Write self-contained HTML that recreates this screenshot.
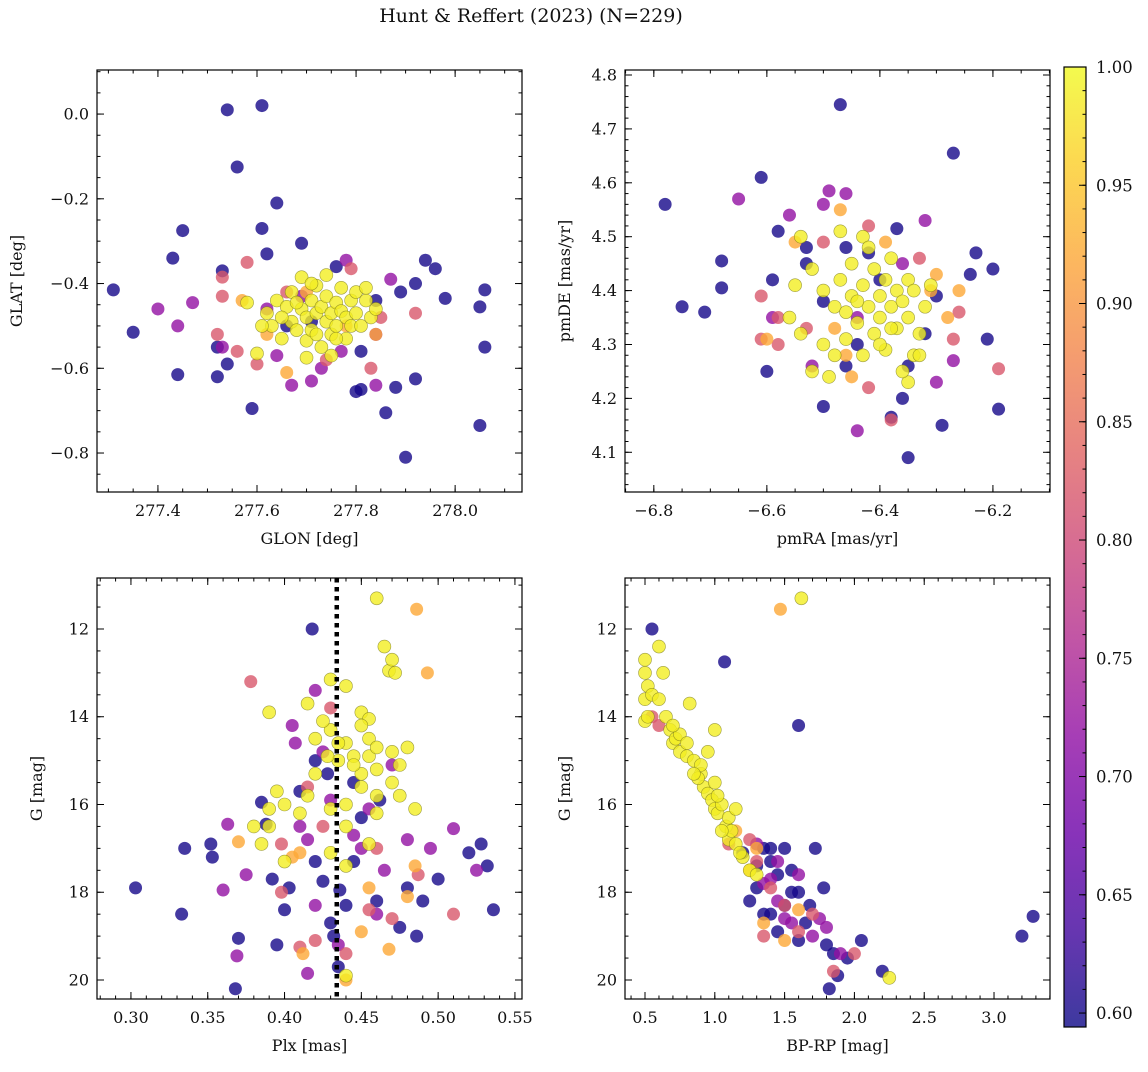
<!DOCTYPE html>
<html><head><meta charset="utf-8"><style>
html,body{margin:0;padding:0;background:#fff;}
svg text{font-family:"DejaVu Serif","Liberation Serif",serif;fill:#111;}
</style></head><body>
<svg id="fig" width="1148" height="1067" viewBox="0 0 1148 1067" xmlns="http://www.w3.org/2000/svg">
<defs>
<linearGradient id="plasma" x1="0" y1="1" x2="0" y2="0">
<stop offset="0" stop-color="#0d0887"/><stop offset="0.1" stop-color="#41049d"/><stop offset="0.2" stop-color="#6a00a8"/><stop offset="0.3" stop-color="#8f0da4"/><stop offset="0.4" stop-color="#b12a90"/><stop offset="0.5" stop-color="#cc4778"/><stop offset="0.6" stop-color="#e16462"/><stop offset="0.7" stop-color="#f2844b"/><stop offset="0.8" stop-color="#fca636"/><stop offset="0.9" stop-color="#fcce25"/><stop offset="1" stop-color="#f0f921"/>
</linearGradient>
</defs>
<text x="531" y="22" text-anchor="middle" font-size="19">Hunt &amp; Reffert (2023) (N=229)</text>
</svg>
<script>
// Panel 1: GLON vs GLAT [x, y, prob]
const p1 = [
[277.31,-0.415,0.6],[277.35,-0.515,0.6],[277.43,-0.34,0.6],[277.45,-0.275,0.6],[277.44,-0.615,0.6],[277.54,0.01,0.6],[277.61,0.02,0.6],[277.56,-0.125,0.6],[277.64,-0.21,0.6],[277.61,-0.27,0.6],[277.62,-0.33,0.6],[277.52,-0.62,0.6],[277.59,-0.695,0.6],[277.69,-0.305,0.6],[277.81,-0.65,0.6],[277.80,-0.655,0.6],[277.86,-0.705,0.6],[277.90,-0.81,0.6],[278.05,-0.735,0.6],[278.06,-0.55,0.6],[278.06,-0.415,0.6],[278.05,-0.455,0.6],[277.98,-0.435,0.6],[277.96,-0.365,0.6],[277.94,-0.345,0.6],[277.92,-0.4,0.6],[277.89,-0.42,0.6],[277.92,-0.625,0.6],[277.88,-0.645,0.6],[277.84,-0.44,0.6],[277.76,-0.36,0.6],[277.53,-0.37,0.6],[277.54,-0.59,0.6],[277.52,-0.55,0.6],[277.71,-0.49,0.6],[277.81,-0.56,0.6],[277.66,-0.5,0.6],
[277.40,-0.46,0.72],[277.44,-0.5,0.72],[277.47,-0.445,0.72],[277.67,-0.64,0.72],[277.71,-0.63,0.72],[277.84,-0.64,0.72],[277.87,-0.39,0.72],[277.73,-0.6,0.72],[277.78,-0.345,0.72],[277.69,-0.43,0.72],[277.64,-0.57,0.72],[277.77,-0.56,0.72],[277.62,-0.46,0.72],[277.84,-0.52,0.72],[277.53,-0.55,0.72],
[277.53,-0.43,0.82],[277.56,-0.56,0.82],[277.58,-0.35,0.82],[277.53,-0.385,0.82],[277.92,-0.47,0.82],[277.85,-0.48,0.82],[277.66,-0.42,0.82],[277.79,-0.365,0.82],[277.74,-0.58,0.82],[277.83,-0.6,0.82],[277.60,-0.59,0.82],[277.52,-0.52,0.82],
[277.57,-0.44,0.92],[277.66,-0.61,0.92],[277.84,-0.52,0.92],[277.70,-0.42,0.92],[277.78,-0.50,0.92],[277.62,-0.52,0.92],
[277.58,-0.445,0.99],[277.60,-0.565,0.99],[277.62,-0.47,0.99],[277.63,-0.5,0.99],[277.64,-0.44,0.99],[277.65,-0.53,0.99],[277.66,-0.455,0.99],[277.67,-0.49,0.99],[277.67,-0.42,0.99],[277.68,-0.51,0.99],[277.69,-0.46,0.99],[277.69,-0.385,0.99],[277.70,-0.535,0.99],[277.70,-0.48,0.99],[277.71,-0.44,0.99],[277.71,-0.51,0.99],[277.72,-0.47,0.99],[277.72,-0.405,0.99],[277.73,-0.55,0.99],[277.73,-0.455,0.99],[277.74,-0.49,0.99],[277.74,-0.38,0.99],[277.74,-0.43,0.99],[277.75,-0.47,0.99],[277.75,-0.52,0.99],[277.76,-0.445,0.99],[277.76,-0.5,0.99],[277.77,-0.465,0.99],[277.77,-0.41,0.99],[277.78,-0.48,0.99],[277.78,-0.53,0.99],[277.79,-0.44,0.99],[277.79,-0.5,0.99],[277.80,-0.42,0.99],[277.80,-0.47,0.99],[277.81,-0.5,0.99],[277.82,-0.44,0.99],[277.83,-0.48,0.99],[277.84,-0.46,0.99],[277.70,-0.575,0.99],[277.75,-0.57,0.99],[277.68,-0.445,0.99],[277.72,-0.52,0.99],[277.65,-0.48,0.99],[277.76,-0.53,0.99],[277.82,-0.41,0.99],[277.71,-0.40,0.99],[277.61,-0.5,0.99]
];
// Panel 2: pmRA vs pmDE
const p2 = [
[-6.78,4.56,0.6],[-6.75,4.37,0.6],[-6.71,4.36,0.6],[-6.68,4.455,0.6],[-6.68,4.405,0.6],[-6.61,4.61,0.6],[-6.60,4.25,0.6],[-6.59,4.42,0.6],[-6.58,4.51,0.6],[-6.47,4.745,0.6],[-6.27,4.655,0.6],[-6.23,4.47,0.6],[-6.20,4.44,0.6],[-6.19,4.18,0.6],[-6.21,4.31,0.6],[-6.29,4.15,0.6],[-6.35,4.09,0.6],[-6.50,4.185,0.6],[-6.36,4.2,0.6],[-6.38,4.165,0.6],[-6.44,4.3,0.6],[-6.46,4.26,0.6],[-6.35,4.26,0.6],[-6.24,4.43,0.6],[-6.53,4.45,0.6],[-6.50,4.38,0.6],[-6.42,4.47,0.6],[-6.30,4.39,0.6],[-6.32,4.32,0.6],[-6.46,4.48,0.6],[-6.37,4.515,0.6],[-6.53,4.48,0.6],[-6.40,4.42,0.6],
[-6.49,4.585,0.72],[-6.46,4.58,0.72],[-6.50,4.56,0.72],[-6.65,4.57,0.72],[-6.56,4.54,0.72],[-6.44,4.14,0.72],[-6.32,4.53,0.72],[-6.30,4.23,0.72],[-6.27,4.27,0.72],[-6.52,4.26,0.72],[-6.59,4.35,0.72],[-6.36,4.45,0.72],[-6.44,4.35,0.72],
[-6.19,4.255,0.82],[-6.61,4.39,0.82],[-6.61,4.31,0.82],[-6.58,4.3,0.82],[-6.42,4.52,0.82],[-6.42,4.22,0.82],[-6.38,4.16,0.82],[-6.27,4.31,0.82],[-6.26,4.36,0.82],[-6.50,4.49,0.82],[-6.53,4.33,0.82],[-6.33,4.46,0.82],[-6.58,4.35,0.82],
[-6.47,4.55,0.92],[-6.39,4.49,0.92],[-6.30,4.43,0.92],[-6.31,4.4,0.92],[-6.45,4.24,0.92],[-6.26,4.4,0.92],[-6.48,4.33,0.92],[-6.55,4.49,0.92],[-6.60,4.31,0.92],[-6.46,4.28,0.92],[-6.28,4.35,0.92],
[-6.54,4.50,0.99],[-6.47,4.51,0.99],[-6.43,4.50,0.99],[-6.52,4.44,0.99],[-6.55,4.41,0.99],[-6.56,4.35,0.99],[-6.54,4.32,0.99],[-6.52,4.25,0.99],[-6.49,4.24,0.99],[-6.50,4.40,0.99],[-6.50,4.30,0.99],[-6.48,4.37,0.99],[-6.47,4.42,0.99],[-6.46,4.31,0.99],[-6.45,4.39,0.99],[-6.45,4.45,0.99],[-6.44,4.34,0.99],[-6.43,4.41,0.99],[-6.43,4.28,0.99],[-6.42,4.37,0.99],[-6.41,4.44,0.99],[-6.41,4.32,0.99],[-6.40,4.39,0.99],[-6.40,4.35,0.99],[-6.39,4.42,0.99],[-6.39,4.29,0.99],[-6.38,4.37,0.99],[-6.38,4.46,0.99],[-6.37,4.40,0.99],[-6.37,4.33,0.99],[-6.36,4.38,0.99],[-6.35,4.42,0.99],[-6.35,4.35,0.99],[-6.34,4.40,0.99],[-6.33,4.32,0.99],[-6.32,4.37,0.99],[-6.31,4.41,0.99],[-6.35,4.23,0.99],[-6.36,4.25,0.99],[-6.34,4.28,0.99],[-6.42,4.48,0.99],[-6.44,4.38,0.99],[-6.48,4.28,0.99],[-6.40,4.30,0.99],[-6.46,4.36,0.99],[-6.38,4.33,0.99],[-6.33,4.28,0.99]
];
// Panel 3: Plx vs G
const p3 = [
[0.303,17.9,0.6],[0.333,18.5,0.6],[0.335,17.0,0.6],[0.353,17.2,0.6],[0.352,16.9,0.6],[0.368,20.2,0.6],[0.370,19.05,0.6],[0.385,15.95,0.6],[0.388,16.45,0.6],[0.392,17.7,0.6],[0.395,19.2,0.6],[0.40,18.4,0.6],[0.403,17.9,0.6],[0.418,12.0,0.6],[0.42,17.3,0.6],[0.43,18.7,0.6],[0.432,19.0,0.6],[0.436,17.95,0.6],[0.435,19.7,0.6],[0.445,15.5,0.6],[0.45,16.3,0.6],[0.46,18.2,0.6],[0.475,18.8,0.6],[0.48,17.9,0.6],[0.486,19.0,0.6],[0.49,18.2,0.6],[0.50,17.7,0.6],[0.52,17.1,0.6],[0.528,16.9,0.6],[0.532,17.4,0.6],[0.536,18.4,0.6],[0.425,17.75,0.6],[0.41,15.7,0.6],[0.428,15.3,0.6],[0.445,17.3,0.6],[0.42,15.0,0.6],[0.44,18.3,0.6],[0.462,15.9,0.6],
[0.369,19.45,0.72],[0.363,16.45,0.72],[0.36,17.95,0.72],[0.375,17.6,0.72],[0.405,14.2,0.72],[0.407,14.6,0.72],[0.41,16.5,0.72],[0.415,16.8,0.72],[0.42,13.4,0.72],[0.425,14.8,0.72],[0.43,15.9,0.72],[0.445,16.7,0.72],[0.455,16.1,0.72],[0.465,17.5,0.72],[0.47,15.1,0.72],[0.48,16.8,0.72],[0.495,17.0,0.72],[0.51,16.55,0.72],[0.525,17.5,0.72],[0.45,17.0,0.72],[0.46,18.5,0.72],[0.435,19.2,0.72],[0.415,19.85,0.72],[0.42,18.3,0.72],
[0.378,13.2,0.82],[0.398,16.9,0.82],[0.41,19.25,0.82],[0.42,19.1,0.82],[0.44,19.4,0.82],[0.455,18.4,0.82],[0.47,18.6,0.82],[0.487,17.6,0.82],[0.51,18.5,0.82],[0.43,13.8,0.82],[0.415,15.6,0.82],[0.425,16.5,0.82],[0.398,18.0,0.82],[0.46,17.0,0.82],
[0.486,11.55,0.92],[0.493,13.0,0.92],[0.405,17.2,0.92],[0.41,17.1,0.92],[0.412,19.4,0.92],[0.44,20.0,0.92],[0.455,17.9,0.92],[0.468,19.3,0.92],[0.48,18.1,0.92],[0.485,17.4,0.92],[0.45,18.9,0.92],[0.37,16.85,0.92],
[0.46,11.3,0.99],[0.465,12.4,0.99],[0.468,12.95,0.99],[0.47,12.7,0.99],[0.472,13.0,0.99],[0.44,13.3,0.99],[0.43,13.15,0.99],[0.415,13.7,0.99],[0.39,13.9,0.99],[0.44,14.6,0.99],[0.45,13.9,0.99],[0.455,14.05,0.99],[0.42,14.5,0.99],[0.43,14.3,0.99],[0.435,14.6,0.99],[0.445,14.9,0.99],[0.455,14.9,0.99],[0.46,15.2,0.99],[0.47,14.8,0.99],[0.475,15.1,0.99],[0.48,14.7,0.99],[0.475,15.8,0.99],[0.485,16.1,0.99],[0.47,15.5,0.99],[0.46,15.8,0.99],[0.45,15.3,0.99],[0.435,15.0,0.99],[0.42,15.3,0.99],[0.415,15.8,0.99],[0.395,15.7,0.99],[0.39,16.1,0.99],[0.38,16.5,0.99],[0.39,16.5,0.99],[0.40,16.0,0.99],[0.41,16.2,0.99],[0.43,16.1,0.99],[0.44,16.0,0.99],[0.44,16.5,0.99],[0.45,15.6,0.99],[0.455,16.9,0.99],[0.46,16.2,0.99],[0.385,16.9,0.99],[0.40,17.3,0.99],[0.43,17.1,0.99],[0.44,17.4,0.99],[0.425,14.1,0.99],[0.428,14.9,0.99],[0.45,14.2,0.99],[0.455,14.5,0.99],[0.44,19.9,0.99],[0.445,15.1,0.99],[0.46,14.7,0.99]
];
// Panel 4: BP-RP vs G
const p4 = [
[0.55,12.0,0.6],[1.07,12.75,0.6],[1.6,14.2,0.6],[1.2,17.1,0.6],[1.25,18.2,0.6],[1.3,17.9,0.6],[1.35,17.0,0.6],[1.4,17.3,0.6],[1.45,17.6,0.6],[1.4,18.5,0.6],[1.5,18.3,0.6],[1.6,18.0,0.6],[1.65,18.7,0.6],[1.68,18.3,0.6],[1.72,17.0,0.6],[1.78,17.9,0.6],[1.8,19.2,0.6],[1.85,19.4,0.6],[1.95,19.5,0.6],[2.05,19.1,0.6],[2.2,19.8,0.6],[1.82,20.2,0.6],[1.88,19.9,0.6],[3.2,19.0,0.6],[3.28,18.55,0.6],[1.5,17.0,0.6],[1.55,17.5,0.6],[1.35,18.5,0.6],[1.6,19.1,0.6],[1.45,18.9,0.6],[1.3,17.4,0.6],[1.4,17.0,0.6],[1.55,18.0,0.6],
[1.3,16.9,0.72],[1.4,17.7,0.72],[1.45,18.2,0.72],[1.55,18.7,0.72],[1.6,17.6,0.72],[1.7,19.0,0.72],[1.75,18.6,0.72],[1.8,18.8,0.72],[1.9,19.4,0.72],[1.35,17.8,0.72],[1.5,18.6,0.72],[1.45,17.3,0.72],
[0.6,14.2,0.82],[1.1,16.9,0.82],[1.3,17.3,0.82],[1.4,17.9,0.82],[1.5,18.3,0.82],[1.6,18.9,0.82],[1.7,18.5,0.82],[1.85,19.8,0.82],[2.0,19.4,0.82],[1.35,19.0,0.82],[0.55,14.0,0.82],[1.25,16.8,0.82],
[1.47,11.55,0.92],[1.5,19.1,0.92],[1.35,18.7,0.92],[1.25,17.5,0.92],[1.6,18.4,0.92],[1.15,16.6,0.92],[1.3,17.0,0.92],
[0.5,12.7,0.99],[0.5,13.0,0.99],[0.52,13.3,0.99],[0.5,13.6,0.99],[0.55,13.5,0.99],[0.5,14.1,0.99],[0.52,14.0,0.99],[0.6,12.4,0.99],[0.63,13.0,0.99],[0.65,14.0,0.99],[0.68,14.3,0.99],[0.7,14.6,0.99],[0.72,14.5,0.99],[0.75,14.8,0.99],[0.8,14.9,0.99],[0.85,15.0,0.99],[0.82,13.7,0.99],[1.0,14.3,0.99],[0.9,15.3,0.99],[0.92,15.6,0.99],[0.95,15.75,0.99],[0.98,15.9,0.99],[1.0,16.1,0.99],[1.02,16.2,0.99],[1.05,16.0,0.99],[1.08,16.5,0.99],[1.1,16.8,0.99],[1.12,16.6,0.99],[1.15,16.9,0.99],[1.0,15.5,0.99],[0.95,14.8,0.99],[1.02,15.8,0.99],[1.2,17.2,0.99],[1.25,17.5,0.99],[1.3,17.6,0.99],[0.88,15.4,0.99],[0.9,15.1,0.99],[1.1,16.3,0.99],[1.15,16.1,0.99],[1.62,11.3,0.99],[2.25,19.95,0.99],[0.75,14.4,0.99],[0.8,14.6,0.99],[0.85,15.3,0.99],[1.05,16.6,0.99],[1.18,17.1,0.99],[0.6,13.6,0.99],[0.7,14.2,0.99]
];
const plxLine = [0.434];
const cbTicks = [0.60,0.65,0.70,0.75,0.80,0.85,0.90,0.95,1.00];

const NS="http://www.w3.org/2000/svg";
const svg=document.getElementById('fig');
function mk(t,a,parent){const e=document.createElementNS(NS,t);for(const k in a)e.setAttribute(k,a[k]);(parent||svg).appendChild(e);return e;}
const stops=[[0,[13,8,135]],[0.1,[65,4,157]],[0.2,[106,0,168]],[0.3,[143,13,164]],[0.4,[177,42,144]],[0.5,[204,71,120]],[0.6,[225,100,98]],[0.7,[242,132,75]],[0.8,[252,166,54]],[0.9,[252,206,37]],[1,[240,249,33]]];
const VMIN=0.5941,VMAX=1.0;
function cmap(p){let t=(p-VMIN)/(VMAX-VMIN);t=Math.max(0,Math.min(1,t));for(let i=1;i<stops.length;i++){if(t<=stops[i][0]){const a=stops[i-1],b=stops[i];const f=(t-a[0])/(b[0]-a[0]);const c=a[1].map((v,j)=>Math.round(v+(b[1][j]-v)*f));return `rgb(${c})`;}}return 'rgb(240,249,33)';}

function fmt(v,d){return (v<0?'\u2212':'')+Math.abs(v).toFixed(d);}
function panel(cfg){
  const g=mk('g',{});
  
  
  const sx=v=>cfg.px0+(v-cfg.xmin)/(cfg.xmax-cfg.xmin)*(cfg.px1-cfg.px0);
  const sy=v=>cfg.py0+(v-cfg.ymin)/(cfg.ymax-cfg.ymin)*(cfg.py1-cfg.py0);
  const pts=cfg.data.slice().sort((a,b)=>a[2]-b[2]);
  const cg=mk('g',{'clip-path':`url(#clip-${cfg.name})`},g);
  const cp=mk('clipPath',{id:`clip-${cfg.name}`},svg);
  mk('rect',{x:cfg.px0,y:cfg.py0,width:cfg.px1-cfg.px0,height:cfg.py1-cfg.py0},cp);
  for(const d of pts){
    const c=mk('circle',{cx:sx(d[0]),cy:sy(d[1]),r:6.5,fill:cmap(d[2]),'fill-opacity':0.8,stroke:d[2]>0.95?'#77771a':'none','stroke-width':0.6,'stroke-opacity':0.7},cg);
    
    
  }
  if(cfg.vline){for(const v of cfg.vline){const l=mk('line',{x1:sx(v),x2:sx(v),y1:cfg.py0,y2:cfg.py1,stroke:'#000','stroke-width':4.5,'stroke-dasharray':'4.5,4.5'},cg);
    
    }}
  const fr=mk('rect',{x:cfg.px0,y:cfg.py0,width:cfg.px1-cfg.px0,height:cfg.py1-cfg.py0,fill:'none',stroke:'#000','stroke-width':1.2},g);
  
  
  const tk=(x1,y1,x2,y2)=>mk('line',{x1,y1,x2,y2,stroke:'#000','stroke-width':1},g);
  const eps=1e-9;
  for(let v=Math.ceil(cfg.xmin/cfg.xmi-eps)*cfg.xmi;v<=cfg.xmax;v+=cfg.xmi){const x=sx(v);tk(x,cfg.py1,x,cfg.py1-3.5);tk(x,cfg.py0,x,cfg.py0+3.5);}
  const ylo=Math.min(cfg.ymin,cfg.ymax),yhi=Math.max(cfg.ymin,cfg.ymax);
  for(let v=Math.ceil(ylo/cfg.ymi-eps)*cfg.ymi;v<=yhi;v+=cfg.ymi){const y=sy(v);tk(cfg.px0,y,cfg.px0+3.5,y);tk(cfg.px1,y,cfg.px1-3.5,y);}
  for(const v of cfg.xt){const x=sx(v);tk(x,cfg.py1,x,cfg.py1-7);tk(x,cfg.py0,x,cfg.py0+7);
    const t=mk('text',{x,y:cfg.py1+24,'text-anchor':'middle','font-size':16},g);t.textContent=fmt(v,cfg.xd);
    
    }
  for(const v of cfg.yt){const y=sy(v);tk(cfg.px0,y,cfg.px0+7,y);tk(cfg.px1,y,cfg.px1-7,y);
    const t=mk('text',{x:cfg.px0-8,y:y+5.5,'text-anchor':'end','font-size':16},g);t.textContent=fmt(v,cfg.yd);
    
    }
  const xl=mk('text',{x:(cfg.px0+cfg.px1)/2,y:cfg.py1+52,'text-anchor':'middle','font-size':16},g);xl.textContent=cfg.xlab;
  
  
  const yx=cfg.px0-cfg.ylabOff, yy=(cfg.py0+cfg.py1)/2;
  const yl=mk('text',{x:yx,y:yy,'text-anchor':'middle','font-size':16,transform:`rotate(-90 ${yx} ${yy})`},g);yl.textContent=cfg.ylab;
  
  
}
panel({name:'glon-glat-panel',data:p1,px0:97,px1:522,py0:70,py1:492,xmin:277.277,xmax:278.135,ymin:0.104,ymax:-0.892,
  xt:[277.4,277.6,277.8,278.0],xmi:0.05,xd:1,yt:[0,-0.2,-0.4,-0.6,-0.8],ymi:0.05,yd:1,xlab:'GLON [deg]',ylab:'GLAT [deg]',ylabOff:75});
panel({name:'pm-panel',data:p2,px0:625,px1:1050,py0:70,py1:492,xmin:-6.851,xmax:-6.099,ymin:4.8093,ymax:4.0263,
  xt:[-6.8,-6.6,-6.4,-6.2],xmi:0.05,xd:1,yt:[4.1,4.2,4.3,4.4,4.5,4.6,4.7,4.8],ymi:0.02,yd:1,xlab:'pmRA [mas/yr]',ylab:'pmDE [mas/yr]',ylabOff:55});
panel({name:'plx-g-panel',data:p3,vline:plxLine,px0:97,px1:522,py0:578,py1:999,xmin:0.2779,xmax:0.5546,ymin:10.838,ymax:20.433,
  xt:[0.30,0.35,0.40,0.45,0.50,0.55],xmi:0.01,xd:2,yt:[12,14,16,18,20],ymi:0.5,yd:0,xlab:'Plx [mas]',ylab:'G [mag]',ylabOff:55});
panel({name:'cmd-panel',data:p4,px0:625,px1:1050,py0:578,py1:999,xmin:0.3567,xmax:3.401,ymin:10.838,ymax:20.433,
  xt:[0.5,1.0,1.5,2.0,2.5,3.0],xmi:0.1,xd:1,yt:[12,14,16,18,20],ymi:0.5,yd:0,xlab:'BP-RP [mag]',ylab:'G [mag]',ylabOff:55});

const cb=mk('g',{});


const cbx0=1064,cbx1=1086,cby0=67,cby1=1027;
const cby=v=>cby1-(v-VMIN)/(VMAX-VMIN)*(cby1-cby0);
mk('rect',{x:cbx0,y:cby0,width:cbx1-cbx0,height:cby1-cby0,fill:'url(#plasma)','fill-opacity':0.8},cb);
mk('rect',{x:cbx0,y:cby0,width:cbx1-cbx0,height:cby1-cby0,fill:'none',stroke:'#000','stroke-width':1.2},cb);
for(let v=0.60;v<=1.0001;v+=0.01){const y=cby(v);mk('line',{x1:cbx1,x2:cbx1-3.5,y1:y,y2:y,stroke:'#000','stroke-width':1},cb);}
for(const v of cbTicks){const y=cby(v);mk('line',{x1:cbx1,x2:cbx1-7,y1:y,y2:y,stroke:'#000','stroke-width':1},cb);
  const t=mk('text',{x:cbx1+10,y:y+6,'font-size':16.5},cb);t.textContent=v.toFixed(2);
  
  }
</script>
</body></html>
